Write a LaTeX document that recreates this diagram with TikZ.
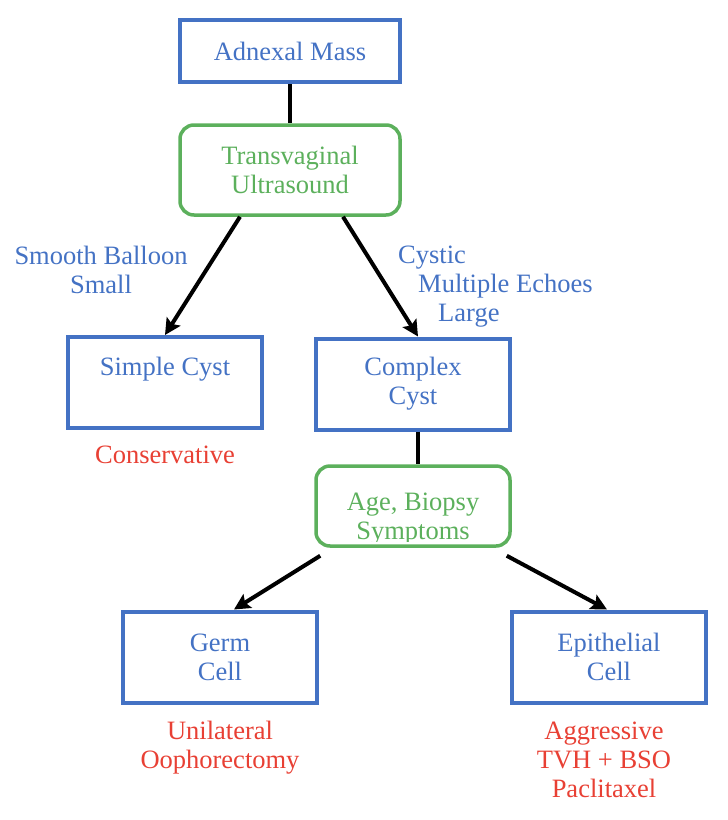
\documentclass[tikz,border=0pt]{standalone}
\usepackage{fontspec}
\setmainfont{Liberation Serif}
\usetikzlibrary{arrows.meta}
\definecolor{bblue}{RGB}{68,114,196}
\definecolor{ggreen}{RGB}{92,176,92}
\definecolor{rred}{RGB}{232,64,52}
\tikzset{
  bluebox/.style={draw=bblue, line width=4pt, text=bblue, minimum width=194pt, minimum height=91pt, inner sep=0pt, align=center},
  greenbox/.style={draw=ggreen, line width=3.5pt, rounded corners=14pt, text=ggreen, minimum width=220pt, minimum height=90pt, inner sep=0pt, align=center},
  lbl/.style={text=bblue, inner sep=0pt},
  redlbl/.style={text=rred, inner sep=0pt, align=center},
  conn/.style={line width=4pt, black},
  arr/.style={line width=4pt, black, -{Stealth[length=16pt,width=16pt,inset=3pt]}}
}
\begin{document}
\begin{tikzpicture}[x=1pt,y=-1pt, font=\fontsize{26.5}{29}\selectfont]
\useasboundingbox (0,0) rectangle (728,820);
\node[bluebox, minimum width=220pt, minimum height=62pt] (adnexal) at (290,51) {Adnexal Mass};
\node[greenbox] (tvu) at (290,170) {Transvaginal\\Ultrasound};
\node[bluebox] (simple) at (165,382.5) {};
\node[lbl] (simpletext) at (165,369) {Simple Cyst};
\node[bluebox] (complex) at (413,384) {Complex\\Cyst};
\node[greenbox, minimum width=194pt, minimum height=80pt] (age) at (413,506) {};
\begin{scope}
  \clip (320,470) rectangle (506,541);
  \node[text=ggreen, align=center, inner sep=0pt, anchor=base] (agetext) at (413,539) {Age, Biopsy\\Symptoms};
\end{scope}
\node[bluebox] (germ) at (220,657) {Germ\\Cell};
\node[bluebox] (epi) at (609,657) {Epithelial\\Cell};

\draw[conn] (adnexal.south) -- (tvu.north);
\draw[conn] ([xshift=5pt]complex.south) -- ([xshift=5pt]age.north);
\draw[arr] ([xshift=-50pt]tvu.south) -- (simple.north);
\draw[arr] ([xshift=53pt]tvu.south) -- ([xshift=5pt]complex.north);
\draw[arr] ([xshift=6pt,yshift=-8pt]age.south west) -- ([xshift=14pt]germ.north);
\draw[arr] ([xshift=-5pt,yshift=-8pt]age.south east) -- ([xshift=-2pt]epi.north);

\node[lbl, align=center] (lblsmall) at (101,270) {Smooth Balloon\\Small};
\node[lbl, align=left, anchor=north west] (lbllarge) at (398,246) {Cystic\\\hspace*{20pt}Multiple Echoes\\\hspace*{40pt}Large};
\node[redlbl] (cons) at (165,455) {Conservative};
\node[redlbl] (uni) at (220,748) {Unilateral\\Oophorectomy};
\node[redlbl] (aggr) at (604,760) {Aggressive\\TVH + BSO\\Paclitaxel};
\end{tikzpicture}
\end{document}
